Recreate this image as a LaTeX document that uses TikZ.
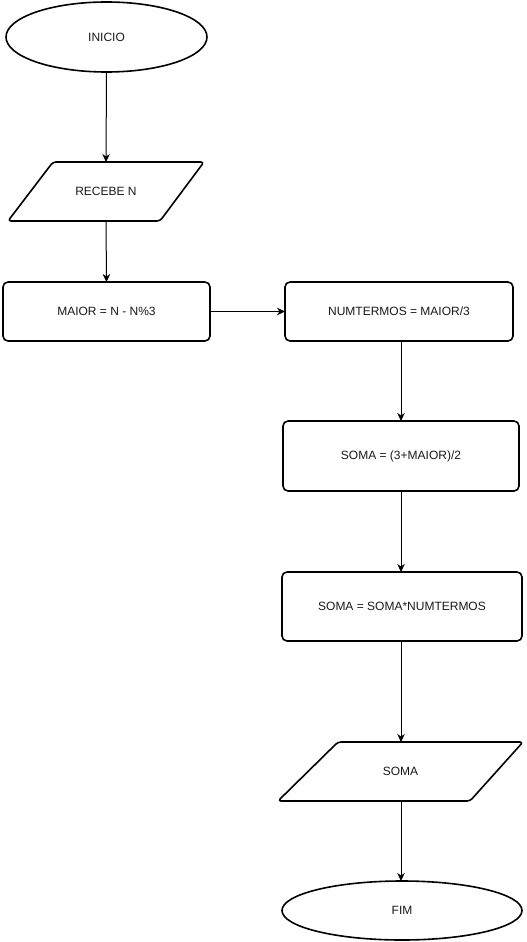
\documentclass[tikz,border=0pt]{standalone}
\usepackage{fontspec}
\setmainfont{Liberation Sans}
\usetikzlibrary{shapes.geometric,arrows.meta,calc}
\begin{document}
\begin{tikzpicture}[x=1pt,y=-1pt,
  base/.style={inner sep=0pt, outer sep=0pt, font=\fontsize{12}{14}\selectfont, text=black!90},
  outline/.style={draw=black, line width=1.6pt, line join=round},
  terminal/.style={base, ellipse, outline},
  process/.style={base, rectangle, outline, rounded corners=5pt},
  iobox/.style={base, rectangle, draw=none},
  iooutline/.style={outline, rounded corners=3pt},
  flow/.style={draw=black, line width=1pt, -{Stealth[length=8pt,width=7.5pt,inset=2.5pt]}}
]
\useasboundingbox (0,0) rectangle (527,942);

% left column
\node[terminal, minimum width=201pt, minimum height=70pt] (inicio) at (106.5,37) {INICIO};
\node[iobox, minimum width=196pt, minimum height=59pt] (recebe) at (106,191.5) {RECEBE N};
\draw[iooutline] ($(recebe.north west)+(45,0)$) -- (recebe.north east)
  -- ($(recebe.south east)-(44,0)$) -- (recebe.south west) -- cycle;
\node[process, minimum width=207pt, minimum height=59pt] (maior) at (106.5,311.5) {MAIOR = N - N\%3};

% right column
\node[process, minimum width=228pt, minimum height=59pt] (numtermos) at (399,311.5) {NUMTERMOS = MAIOR/3};
\node[process, minimum width=236pt, minimum height=70pt] (soma1) at (401,456) {SOMA = (3+MAIOR)/2};
\node[process, minimum width=240pt, minimum height=69pt] (soma2) at (402,606.5) {SOMA = SOMA*NUMTERMOS};
\node[iobox, minimum width=245pt, minimum height=59pt] (saida) at (400.5,771.5) {SOMA};
\draw[iooutline] ($(saida.north west)+(60,0)$) -- (saida.north east)
  -- ($(saida.south east)-(53,0)$) -- (saida.south west) -- cycle;
\node[terminal, minimum width=240pt, minimum height=59pt] (fim) at (402,910.5) {FIM};

% connectors
\draw[flow] (inicio.south) -- (recebe.north);
\draw[flow] (recebe.south) -- (maior.north);
\draw[flow] (maior.east) -- (numtermos.west);
\draw[flow] (soma1.north |- numtermos.south) -- (soma1.north);
\draw[flow] (soma1.south) -- (soma1.south |- soma2.north);
\draw[flow] (soma1.south |- soma2.south) -- (soma1.south |- saida.north);
\draw[flow] (soma1.south |- saida.south) -- (soma1.south |- fim.north);
\end{tikzpicture}
\end{document}
